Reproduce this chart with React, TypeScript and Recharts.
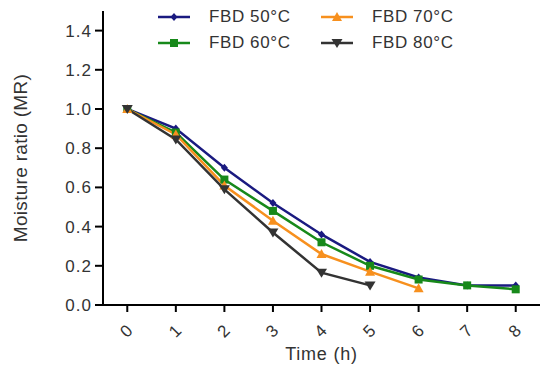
import { LineChart, Line, XAxis, YAxis, Legend } from "recharts";

const hours = [0, 1, 2, 3, 4, 5, 6, 7, 8];

const fbd50 = [1.0, 0.9, 0.7, 0.52, 0.36, 0.22, 0.14, 0.1, 0.1];
const fbd60 = [1.0, 0.88, 0.64, 0.48, 0.32, 0.2, 0.13, 0.1, 0.08];
const fbd70 = [1.0, 0.87, 0.61, 0.43, 0.26, 0.17, 0.085];
const fbd80 = [1.0, 0.845, 0.59, 0.37, 0.165, 0.1];

const yTicks = [0, 0.2, 0.4, 0.6, 0.8, 1.0, 1.2, 1.4];

const FONT = "'Liberation Sans', Arial, sans-serif";
const TEXT = "#333";

const data = hours.map((h, i) => ({
  h,
  s50: fbd50[i] ?? null,
  s60: fbd60[i] ?? null,
  s70: fbd70[i] ?? null,
  s80: fbd80[i] ?? null,
}));

const series = [
  { key: "s50", name: "FBD 50°C", color: "#1a1a80", shape: "diamond" },
  { key: "s60", name: "FBD 60°C", color: "#17891a", shape: "square" },
  { key: "s70", name: "FBD 70°C", color: "#f7901e", shape: "up" },
  { key: "s80", name: "FBD 80°C", color: "#333333", shape: "down" },
];

function Marker({ cx, cy, shape, color }: any) {
  if (cx == null || cy == null) return null;
  if (shape === "diamond")
    return <polygon points={`${cx},${cy - 4} ${cx + 3.5},${cy} ${cx},${cy + 4} ${cx - 3.5},${cy}`} fill={color} />;
  if (shape === "square")
    return <rect x={cx - 4} y={cy - 4} width={8} height={8} fill={color} />;
  if (shape === "up")
    return <polygon points={`${cx},${cy - 5} ${cx + 5},${cy + 4} ${cx - 5},${cy + 4}`} fill={color} />;
  return <polygon points={`${cx - 5.5},${cy - 4} ${cx + 5.5},${cy - 4} ${cx},${cy + 5}`} fill={color} />;
}

function LegendBox() {
  const cell = (s: (typeof series)[number]) => (
    <div key={s.key} style={{ display: "flex", alignItems: "center", height: 26 }}>
      <svg width={32} height={12} style={{ marginRight: 19 }}>
        <line x1={0} y1={6} x2={32} y2={6} stroke={s.color} strokeWidth={2.5} />
        <Marker cx={16} cy={6} shape={s.shape} color={s.color} />
      </svg>
      <span style={{ fontFamily: FONT, fontSize: 17, color: TEXT, letterSpacing: 0.6, whiteSpace: "nowrap" }}>
        {s.name}
      </span>
    </div>
  );
  return (
    <div style={{ display: "grid", gridTemplateColumns: "163px 163px" }}>
      {cell(series[0])}
      {cell(series[2])}
      {cell(series[1])}
      {cell(series[3])}
    </div>
  );
}

function XTick({ x, y, payload }: any) {
  return (
    <text
      transform={`translate(${x},${y + 18}) rotate(-45)`}
      textAnchor="middle"
      dominantBaseline="middle"
      fontFamily={FONT}
      fontSize={17}
      fill={TEXT}
    >
      {payload.value}
    </text>
  );
}

export default function App() {
  return (
    <div style={{ position: "absolute", left: 0, top: 0, width: 550, height: 376, background: "#fff" }}>
      <LineChart width={550} height={376} data={data} margin={{ top: 11, right: 10, bottom: 0, left: 0 }}>
        <XAxis
          dataKey="h"
          type="number"
          domain={[-0.5, 8.5]}
          ticks={hours}
          tick={<XTick />}
          tickSize={7}
          height={71}
          axisLine={{ stroke: "#000", strokeWidth: 2 }}
          tickLine={{ stroke: "#000", strokeWidth: 2 }}
          label={{ value: "Time (h)", position: "center", dy: 13, fontFamily: FONT, fontSize: 18, letterSpacing: 0.8, fill: TEXT }}
        />
        <YAxis
          type="number"
          domain={[0, 1.5]}
          ticks={yTicks}
          tickFormatter={(v: number) => v.toFixed(1)}
          width={103}
          tickSize={8}
          tickMargin={3}
          tick={{ fontFamily: FONT, fontSize: 17, fill: TEXT, letterSpacing: 1 }}
          axisLine={{ stroke: "#000", strokeWidth: 2 }}
          tickLine={{ stroke: "#000", strokeWidth: 2 }}
          label={{ value: "Moisture ratio (MR)", angle: -90, position: "center", dx: -31, fontFamily: FONT, fontSize: 19, letterSpacing: 0.3, fill: TEXT }}
        />
        <Legend
          layout="horizontal"
          verticalAlign="middle"
          align="center"
          content={<LegendBox />}
          wrapperStyle={{ top: 4, left: 158, width: 340 }}
        />
        {series.map((s) => (
          <Line
            key={s.key}
            dataKey={s.key}
            name={s.name}
            stroke={s.color}
            strokeWidth={2.5}
            isAnimationActive={false}
            dot={(p: any) => <Marker key={`${s.key}-${p.index}`} cx={p.cx} cy={p.cy} shape={s.shape} color={s.color} />}
            activeDot={false}
          />
        ))}
      </LineChart>
    </div>
  );
}
